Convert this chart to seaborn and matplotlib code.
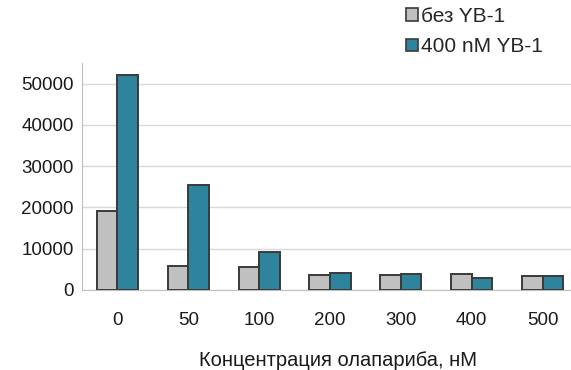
import pandas as pd
import numpy as np
import matplotlib.pyplot as plt
import seaborn as sns
from matplotlib.patches import Patch

# Data
concentrations = ['0', '50', '100', '200', '300', '400', '500']
no_yb1 = [19200, 5800, 5600, 3600, 3600, 3800, 3400]
with_yb1 = [52200, 25500, 9200, 4100, 3900, 2900, 3400]
series_names = ['без YB-1', '400 nM YB-1']
colors = ['#c0c0c0', '#2e849c']

df = pd.DataFrame({
    'conc': concentrations * 2,
    'value': no_yb1 + with_yb1,
    'series': [series_names[0]] * len(concentrations) + [series_names[1]] * len(concentrations),
})

sns.set_style('white')
plt.rcParams['font.family'] = ['Liberation Sans', 'DejaVu Sans']

fig = plt.figure(figsize=(5.71, 3.70), dpi=100)
ax = fig.add_axes([82 / 571, 80 / 370, 1 - 82 / 571, 227 / 370])

sns.barplot(data=df, x='conc', y='value', hue='series', palette=colors,
            saturation=1, width=0.58, edgecolor='#3a3a3a', linewidth=1.4,
            ax=ax, legend=False, zorder=3)

ax.set_ylim(0, 55000)
ax.set_xlim(-0.5, 6.4)
ax.set_yticks(np.arange(0, 50001, 10000))
ax.yaxis.grid(True, color='#d9d9d9', linewidth=1, zorder=0)
ax.set_axisbelow(True)
for side in ['top', 'right']:
    ax.spines[side].set_visible(False)
ax.spines['left'].set_color('#bfbfbf')
ax.spines['bottom'].set_color('#bfbfbf')
ax.tick_params(axis='both', length=0, labelsize=13.5, colors='#1a1a1a')
ax.tick_params(axis='x', pad=16)
ax.tick_params(axis='y', pad=6)
ax.set_ylabel('')
ax.set_xlabel('Концентрация олапариба, нМ', fontsize=14.5, color='#1a1a1a')
ax.xaxis.set_label_coords(0.523, -0.27)

handles = [Patch(facecolor=c, edgecolor='#3a3a3a', linewidth=1.2) for c in colors]
fig.legend(handles, series_names, loc='upper left', bbox_to_anchor=(396 / 571, 1.01),
           frameon=False, fontsize=15, handlelength=0.55, handleheight=0.55,
           handletextpad=0.15, labelspacing=0.55, borderaxespad=0.1)

fig.savefig('out.png', dpi=100)
